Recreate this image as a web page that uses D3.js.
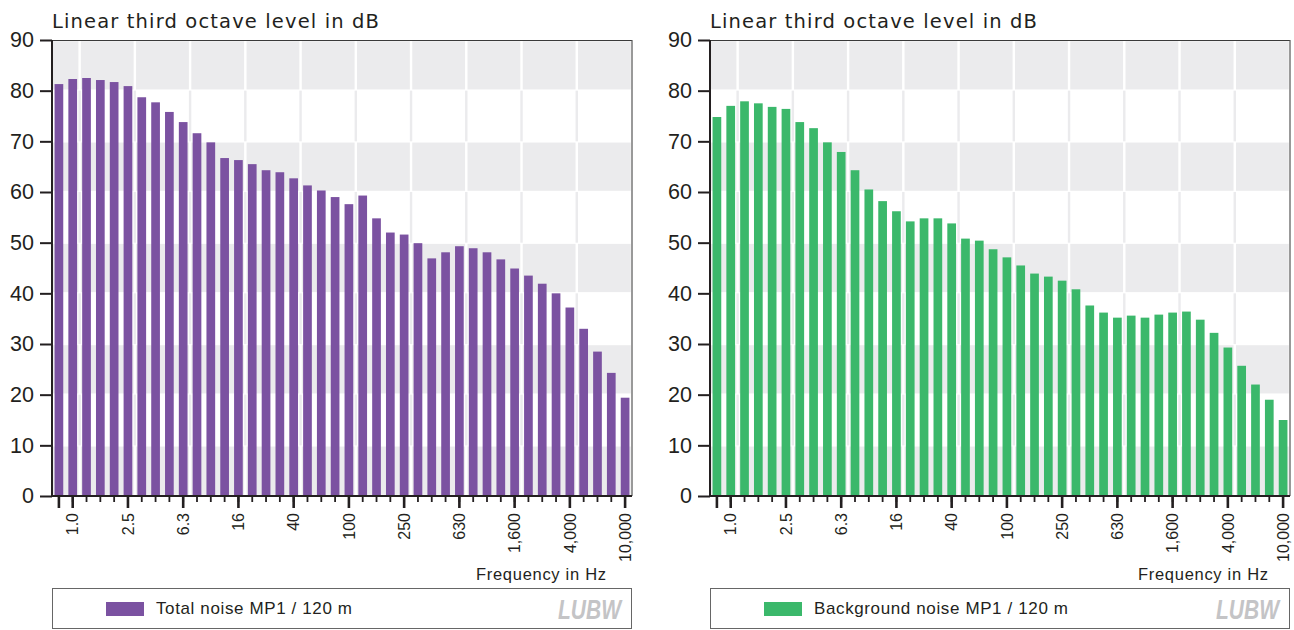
<!DOCTYPE html>
<html><head><meta charset="utf-8">
<script src="https://cdn.jsdelivr.net/npm/d3@7"></script>
<style>body{margin:0;background:#fff}svg{display:block}</style>
</head><body><svg id="c" width="1294" height="630"></svg>
<script>
const bands = ["0.8","1.0","1.25","1.6","2.0","2.5","3.15","4","5","6.3","8","10","12.5","16","20","25","31.5","40","50","63","80","100","125","160","200","250","315","400","500","630","800","1,000","1,250","1,600","2,000","2,500","3,150","4,000","5,000","6,300","8,000","10,000"];
const tickLabels = ["1.0","2.5","6.3","16","40","100","250","630","1,600","4,000","10,000"];
const totalNoise = [81.3,82.3,82.5,82.1,81.7,80.9,78.7,77.7,75.8,73.8,71.6,69.8,66.7,66.3,65.5,64.3,63.9,62.7,61.3,60.3,59.0,57.6,59.3,54.8,52.0,51.6,49.9,46.9,48.1,49.3,48.9,48.1,46.7,44.9,43.5,41.9,40.0,37.2,33.0,28.5,24.3,19.4];
const backgroundNoise = [74.8,77.0,77.9,77.5,76.8,76.4,73.8,72.6,69.8,67.9,64.3,60.5,58.2,56.2,54.2,54.8,54.8,53.8,50.8,50.4,48.7,47.1,45.5,43.9,43.3,42.5,40.8,37.6,36.2,35.2,35.6,35.2,35.8,36.2,36.4,34.8,32.2,29.3,25.7,22.0,19.0,15.0];
const yTicks = [0,10,20,30,40,50,60,70,80,90];
const titleText = "Linear third octave level in dB";
const xAxisTitle = "Frequency in Hz";
const legendLabels = ["Total noise MP1 / 120 m", "Background noise MP1 / 120 m"];
const logoText = "LUBW";

const svg = d3.select("#c");
const TXT = "#231f20";
const GRAY = "#ebebed";
const FONT = "'Liberation Sans', Arial, sans-serif";
const WIDE = "'DejaVu Sans', sans-serif";

function chart(ox, values, color, label, labelWidth, xTitleShift) {
  const g = svg.append("g").attr("transform", `translate(${ox},0)`);
  const L = 52, R = 632, T = 40, B = 496;
  const x = d3.scaleBand().domain(bands).range([L, R]).paddingInner(0.37).paddingOuter(0.185);
  const y = d3.scaleLinear().domain([0, 90]).range([B, T]);
  const step = x.step();
  const center = b => x(b) + x.bandwidth() / 2;
  const edges = [L, ...tickLabels.slice(0, -1).map(t => center(t) + step / 2), R];

  // background grid
  const grid = g.append("g");
  yTicks.slice(0, -1).forEach(r => {
    const y0 = y(r + 10), y1 = y(r);
    if ((r / 10) % 2 === 0) {
      for (let i = 0; i < edges.length - 1; i++) {
        grid.append("rect")
          .attr("x", edges[i] + (i === 0 ? 0 : 1.2)).attr("y", y0 + 1.2)
          .attr("width", edges[i + 1] - edges[i] - (i === 0 ? 1.2 : 2.4))
          .attr("height", y1 - y0 - 2.4).attr("fill", GRAY);
      }
    } else {
      edges.slice(1, -1).forEach(e => {
        grid.append("line").attr("x1", e).attr("x2", e).attr("y1", y0).attr("y2", y1)
          .attr("stroke", GRAY).attr("stroke-width", 2.4);
      });
    }
  });

  // bars
  g.append("g").selectAll("rect").data(values).join("rect")
    .attr("x", (d, i) => x(bands[i]))
    .attr("width", x.bandwidth())
    .attr("y", d => y(d))
    .attr("height", d => y(0) - y(d))
    .attr("fill", color);

  // frame
  g.append("line").attr("x1", L).attr("x2", R).attr("y1", T + 0.5).attr("y2", T + 0.5)
    .attr("stroke", "#3a3a3a").attr("stroke-width", 1);
  g.append("line").attr("x1", R).attr("x2", R).attr("y1", T).attr("y2", B)
    .attr("stroke", "#555").attr("stroke-width", 1.2);

  // y axis
  const ya = g.append("g").attr("transform", `translate(${L},0)`)
    .call(d3.axisLeft(y).tickValues(yTicks).tickSize(12).tickPadding(6));
  ya.select(".domain").remove();
  ya.selectAll(".tick line").attr("stroke", TXT).attr("stroke-width", 2);
  ya.selectAll(".tick text").attr("fill", TXT).attr("font-family", FONT).attr("font-size", 21.5);

  // x axis: small ticks
  const xa1 = g.append("g").attr("transform", `translate(0,${B})`)
    .call(d3.axisBottom(x).tickSize(6).tickFormat(""));
  xa1.select(".domain").remove();
  xa1.selectAll(".tick line").attr("stroke", TXT).attr("stroke-width", 1.8);
  // x axis: long ticks + labels
  const xa2 = g.append("g").attr("transform", `translate(0,${B})`)
    .call(d3.axisBottom(x).tickValues([bands[0], ...tickLabels]).tickSize(12)
      .tickFormat(d => tickLabels.includes(d) ? d : ""));
  xa2.select(".domain").remove();
  xa2.selectAll(".tick line").attr("stroke", TXT).attr("stroke-width", 2.6);
  xa2.selectAll(".tick text")
    .attr("transform", "rotate(-90)")
    .attr("x", -17).attr("y", 0).attr("dy", "0.36em")
    .attr("text-anchor", "end")
    .attr("fill", TXT).attr("font-family", FONT).attr("font-size", 16);

  // axis lines
  g.append("line").attr("x1", L).attr("x2", L).attr("y1", T).attr("y2", B + 1)
    .attr("stroke", TXT).attr("stroke-width", 2);
  g.append("line").attr("x1", L - 1).attr("x2", R).attr("y1", B).attr("y2", B)
    .attr("stroke", TXT).attr("stroke-width", 2);

  // title
  g.append("text").attr("x", L).attr("y", 28).text(titleText)
    .attr("fill", TXT).attr("font-family", WIDE).attr("font-size", 19.5)
    .attr("textLength", 327).attr("lengthAdjust", "spacing");

  // x axis title
  g.append("text").attr("x", 606 + xTitleShift).attr("y", 580).text(xAxisTitle)
    .attr("text-anchor", "end")
    .attr("fill", TXT).attr("font-family", FONT).attr("font-size", 16.5)
    .attr("textLength", 130).attr("lengthAdjust", "spacing");

  // legend
  g.append("rect").attr("x", L + 0.5).attr("y", 588.5).attr("width", R - L - 1).attr("height", 40)
    .attr("fill", "none").attr("stroke", "#666").attr("stroke-width", 1);
  g.append("rect").attr("x", 106).attr("y", 602).attr("width", 38).attr("height", 14).attr("fill", color);
  g.append("text").attr("x", 156).attr("y", 614).text(label)
    .attr("fill", TXT).attr("font-family", FONT).attr("font-size", 17)
    .attr("textLength", labelWidth).attr("lengthAdjust", "spacing");
  g.append("text").attr("transform", "translate(558,619) scale(1,1.35)").text(logoText)
    .attr("fill", "#c4c4c6").attr("font-family", FONT).attr("font-size", 21)
    .attr("font-weight", 900).attr("font-style", "italic");
}

chart(0, totalNoise, "#7b52a1", legendLabels[0], 196, 0);
chart(658, backgroundNoise, "#3bb86b", legendLabels[1], 254, 4);
</script>
</body></html>
